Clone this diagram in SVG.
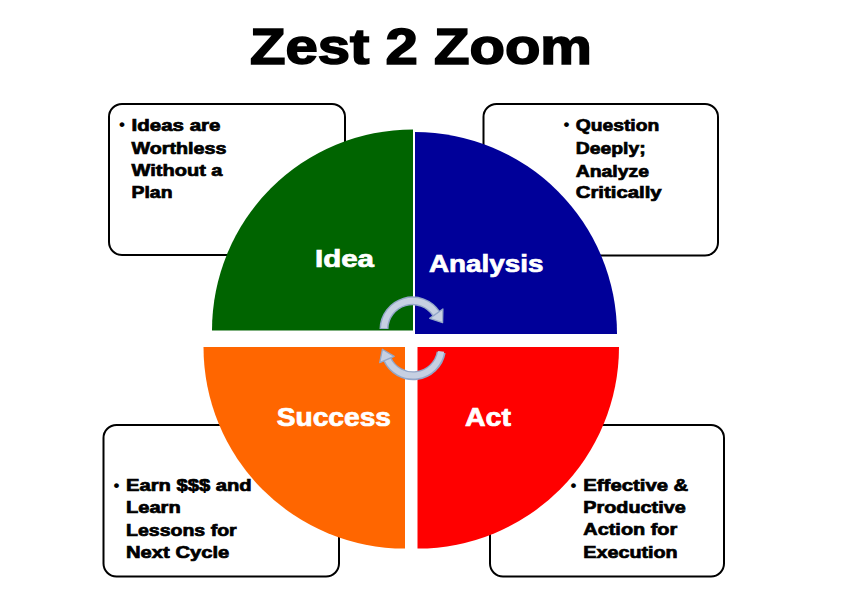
<svg xmlns="http://www.w3.org/2000/svg" width="845" height="589" viewBox="0 0 845 589">
<style>
.box{fill:#fff;stroke:#000;stroke-width:2}
.bt{font-family:"Liberation Sans",Arial,sans-serif;font-weight:bold;font-size:16.5px;fill:#000;stroke:#000;stroke-width:0.7}
.bul{font-family:"Liberation Sans",Arial,sans-serif;font-weight:bold;font-size:17px;fill:#000}
.lbl{font-family:"Liberation Sans",Arial,sans-serif;font-weight:bold;fill:#fff;stroke:#fff;stroke-width:0.7}
.title{font-family:"Liberation Sans",Arial,sans-serif;font-weight:bold;font-size:50px;fill:#000;stroke:#000;stroke-width:1.6}
.arcO{fill:none;stroke:#93a7c8;stroke-width:9}
.arcI{fill:none;stroke:#c6d0e2;stroke-width:6}
.head{fill:#c6d0e2;stroke:#93a7c8;stroke-width:1.3;stroke-linejoin:round}
</style>
<rect width="845" height="589" fill="#fff"/>
<g id="title">
<text class="title" x="250" y="64" textLength="342" lengthAdjust="spacingAndGlyphs">Zest 2 Zoom</text>
</g>
<g id="box-idea">
<rect class="box" x="109" y="104" width="236" height="151" rx="13"/>
<text class="bul" x="119" y="130">•</text>
<text class="bt" x="131.5" y="130.5" textLength="89" lengthAdjust="spacingAndGlyphs">Ideas are</text>
<text class="bt" x="131.5" y="153.5" textLength="95" lengthAdjust="spacingAndGlyphs">Worthless</text>
<text class="bt" x="131.5" y="176" textLength="91" lengthAdjust="spacingAndGlyphs">Without a</text>
<text class="bt" x="131.5" y="197.5" textLength="41" lengthAdjust="spacingAndGlyphs">Plan</text>
</g>
<g id="box-analysis">
<rect class="box" x="483.5" y="104" width="234.5" height="151.5" rx="13"/>
<text class="bul" x="563.5" y="130">•</text>
<text class="bt" x="575.7" y="130.5" textLength="83.6" lengthAdjust="spacingAndGlyphs">Question</text>
<text class="bt" x="575.7" y="153.5" textLength="70" lengthAdjust="spacingAndGlyphs">Deeply;</text>
<text class="bt" x="575.7" y="176.5" textLength="73.3" lengthAdjust="spacingAndGlyphs">Analyze</text>
<text class="bt" x="575.7" y="197.5" textLength="86" lengthAdjust="spacingAndGlyphs">Critically</text>
</g>
<g id="box-success">
<rect class="box" x="103.5" y="425" width="235.5" height="151.5" rx="13"/>
<text class="bul" x="113.5" y="490.5">•</text>
<text class="bt" x="126" y="491" textLength="125.7" lengthAdjust="spacingAndGlyphs">Earn $$$ and</text>
<text class="bt" x="126" y="513.3" textLength="54.7" lengthAdjust="spacingAndGlyphs">Learn</text>
<text class="bt" x="126" y="535.7" textLength="110.7" lengthAdjust="spacingAndGlyphs">Lessons for</text>
<text class="bt" x="126" y="557.7" textLength="103.3" lengthAdjust="spacingAndGlyphs">Next Cycle</text>
</g>
<g id="box-act">
<rect class="box" x="490" y="425" width="234" height="151.5" rx="13"/>
<text class="bul" x="570.5" y="490.5">•</text>
<text class="bt" x="583.3" y="491" textLength="105" lengthAdjust="spacingAndGlyphs">Effective &amp;</text>
<text class="bt" x="583.3" y="513.3" textLength="102.4" lengthAdjust="spacingAndGlyphs">Productive</text>
<text class="bt" x="583.3" y="535" textLength="94" lengthAdjust="spacingAndGlyphs">Action for</text>
<text class="bt" x="583.3" y="557.7" textLength="94.4" lengthAdjust="spacingAndGlyphs">Execution</text>
</g>
<g id="quad-idea">
<path d="M413,330.5 L413,129.5 A201,201 0 0 0 212,330.5 Z" fill="#006400"/>
<text class="lbl" x="315" y="267" font-size="24" textLength="59" lengthAdjust="spacingAndGlyphs">Idea</text>
</g>
<g id="quad-analysis">
<path d="M415,334 L415,132 A202,202 0 0 1 617,334 Z" fill="#000099"/>
<text class="lbl" x="429" y="272" font-size="24" textLength="114.5" lengthAdjust="spacingAndGlyphs">Analysis</text>
</g>
<g id="quad-success">
<path d="M405,347 L405,548.5 A201.5,201.5 0 0 1 203.5,347 Z" fill="#ff6600"/>
<text class="lbl" x="276.7" y="426" font-size="25" textLength="114.3" lengthAdjust="spacingAndGlyphs">Success</text>
</g>
<g id="quad-act">
<path d="M417.5,347 L417.5,548.5 A201.5,201.5 0 0 0 619,347 Z" fill="#ff0000"/>
<text class="lbl" x="465" y="426" font-size="25" textLength="46" lengthAdjust="spacingAndGlyphs">Act</text>
</g>
<g id="connectors">
<path class="arcO" d="M384,329 A28.5,28.5 0 0 1 436.3,313.7"/>
<path class="arcI" d="M384,328.2 A28.5,28.5 0 0 1 436.3,313.7"/>
<polygon class="head" points="442.6,322.7 442.9,309 429.7,318.4"/>
<path class="arcO" d="M441.2,352.4 A28.5,28.5 0 0 1 387.2,359"/>
<path class="arcI" d="M441.2,351.4 A28.5,28.5 0 0 1 387.2,359"/>
<polygon class="head" points="382.4,349.3 379.7,362.7 394.2,356.4"/>
</g>
</svg>
